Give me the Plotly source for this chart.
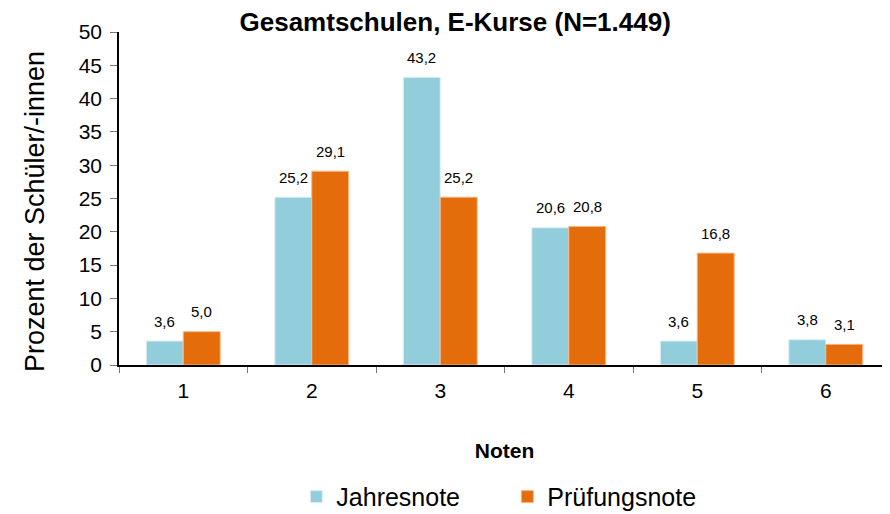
import plotly.graph_objects as go

categories = ["1", "2", "3", "4", "5", "6"]
jahresnote = [3.6, 25.2, 43.2, 20.6, 3.6, 3.8]
pruefungsnote = [5.0, 29.1, 25.2, 20.8, 16.8, 3.1]
y_ticks = [0, 5, 10, 15, 20, 25, 30, 35, 40, 45, 50]

blue = "#92CDDC"
orange = "#E46C0A"
font = "Liberation Sans, Arial, sans-serif"

fig = go.Figure()
fig.add_trace(go.Bar(x=categories, y=jahresnote, name="Jahresnote",
                     marker=dict(color=blue, line=dict(color="#DDEFF4", width=1))))
fig.add_trace(go.Bar(x=categories, y=pruefungsnote, name="Prüfungsnote",
                     marker=dict(color=orange, line=dict(color="#F5B88A", width=1))))

for series, shift in ((jahresnote, -18.5), (pruefungsnote, 18.5)):
    for i, v in enumerate(series):
        fig.add_annotation(x=i, y=v, text=f"{v:.1f}".replace(".", ","),
                           xshift=shift, yshift=20, showarrow=False,
                           yanchor="middle", font=dict(size=15, color="#000", family=font))

# y-axis title
fig.add_annotation(xref="paper", yref="paper", x=-0.109, y=0.462,
                   text="Prozent der Schüler/-innen", textangle=-90, showarrow=False,
                   xanchor="center", yanchor="middle", font=dict(size=27, color="#000"))

fig.update_layout(
    width=882, height=506,
    margin=dict(l=111, r=0, t=24, b=149, autoexpand=False),
    paper_bgcolor="white", plot_bgcolor="white",
    font=dict(family=font, color="#000"),
    title=dict(text="<b>Gesamtschulen, E-Kurse (N=1.449)</b>", x=0.507, xanchor="center",
               y=0.972, yanchor="middle", xref="container", yref="container",
               font=dict(size=26)),
    barmode="group", bargap=0.425, bargroupgap=0,
    showlegend=True,
    legend=dict(orientation="h", x=0.230, xanchor="left", y=-0.396, yanchor="middle",
                font=dict(size=25), itemwidth=30, entrywidth=166, traceorder="normal"),
    separators=",.",
)
fig.update_xaxes(
    type="category", range=[-0.5, 5.5], automargin=False,
    showline=True, linecolor="#000", linewidth=1.5,
    ticks="outside", tickson="boundaries", ticklen=6, tickcolor="#777",
    tickfont=dict(size=21), ticklabelstandoff=6, showgrid=False,
    title=dict(text="<b>Noten</b>", font=dict(size=21), standoff=42),
)
fig.update_yaxes(
    range=[0, 50], tickvals=y_ticks, automargin=False,
    showline=True, linecolor="#000", linewidth=1.5,
    ticks="outside", ticklen=7, tickcolor="#777", tickfont=dict(size=21),
    ticklabelstandoff=4, showgrid=False, zeroline=False,
)

fig.write_html("out.html")
